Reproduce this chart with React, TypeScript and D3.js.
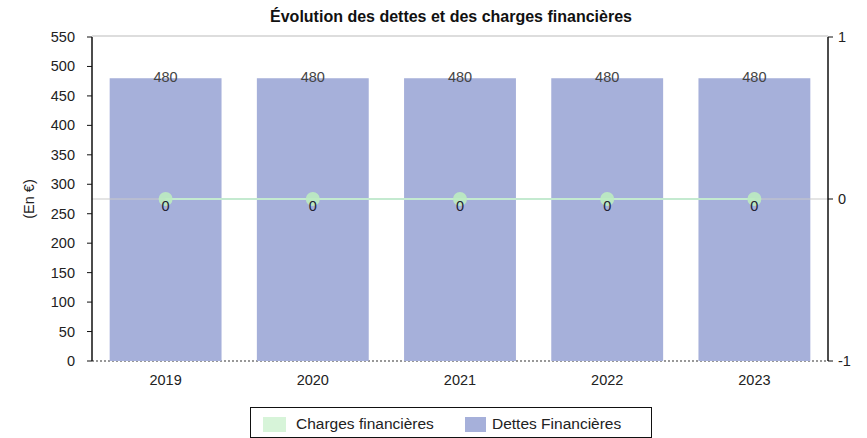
import React from "react";
import * as d3 from "d3";

const years = ["2019", "2020", "2021", "2022", "2023"];
const dettes = [480, 480, 480, 480, 480];
const charges = [0, 0, 0, 0, 0];
const leftTicks = [0, 50, 100, 150, 200, 250, 300, 350, 400, 450, 500, 550];
const rightTicks = [-1, 0, 1];
const title = "Évolution des dettes et des charges financières";
const yTitle = "(En €)";
const legendLabels = ["Charges financières", "Dettes Financières"];

const W = 867, H = 438;
const L = 92, R = 828, T = 37, B = 361;
const barColor = "#a6b0da";
const lineColor = "#c4ead0";
const pointColor = "#bdecc0";
const font = "Liberation Sans, Arial, sans-serif";
const fs = 14.5;

export default function App() {
  const x = d3.scaleBand<string>().domain(years).range([L, R]).paddingInner(0.24).paddingOuter(0.12);
  const xc = (d: string) => (x(d) as number) + x.bandwidth() / 2;
  const yL = d3.scaleLinear().domain([0, 550]).range([B, T]);
  const yR = d3.scaleLinear().domain([-1, 1]).range([B, T]);
  const line = d3.line<number>().x((_, i) => xc(years[i])).y((d) => yR(d));

  return (
    <svg width={W} height={H} style={{ position: "absolute", left: 0, top: 0, background: "#fff" }} fontFamily={font}>
      <text x={451} y={22} textAnchor="middle" fontSize={16} fontWeight="bold" fill="#111">{title}</text>
      {/* top border */}
      <line x1={L} x2={R} y1={T - 1} y2={T - 1} stroke="#bbb" strokeWidth={1} />
      {/* bottom dotted axis */}
      <line x1={L} x2={R} y1={B} y2={B} stroke="#333" strokeWidth={1.2} strokeDasharray="2,2" />
      {/* bars */}
      {years.map((yr, i) => (
        <rect key={yr} x={x(yr)} y={yL(dettes[i])} width={x.bandwidth()} height={B - yL(dettes[i])} fill={barColor} />
      ))}
      {/* zero line of right axis */}
      <line x1={L} x2={R} y1={yR(0)} y2={yR(0)} stroke="#c9c9c9" strokeWidth={1} />
      <path d={line(charges) || ""} fill="none" stroke={lineColor} strokeWidth={2} />
      {years.map((yr, i) => (
        <circle key={yr} cx={xc(yr)} cy={yR(charges[i])} r={7} fill={pointColor} opacity={0.9} />
      ))}
      {years.map((yr, i) => (
        <text key={"c" + yr} x={xc(yr)} y={yR(charges[i]) + 12} textAnchor="middle" fontSize={fs} fill="#223">{charges[i]}</text>
      ))}
      {years.map((yr, i) => (
        <text key={"d" + yr} x={xc(yr)} y={yL(dettes[i]) + 4} textAnchor="middle" fontSize={fs} fill="#444">{dettes[i]}</text>
      ))}
      {/* left axis */}
      <line x1={L} x2={L} y1={T} y2={B} stroke="#111" strokeWidth={1.5} />
      {leftTicks.map((t) => (
        <g key={t}>
          <line x1={L - 5} x2={L} y1={yL(t)} y2={yL(t)} stroke="#111" />
          <text x={L - 17} y={yL(t) + 5} textAnchor="end" fontSize={fs} fill="#222">{t}</text>
        </g>
      ))}
      <text transform={`translate(34,${(T + B) / 2}) rotate(-90)`} textAnchor="middle" fontSize={fs} fill="#222">{yTitle}</text>
      {/* right axis */}
      <line x1={R} x2={R} y1={T} y2={B} stroke="#111" strokeWidth={1.5} />
      {rightTicks.map((t) => (
        <g key={t}>
          <line x1={R} x2={R + 5} y1={yR(t)} y2={yR(t)} stroke="#111" />
          <text x={R + 10} y={yR(t) + 5} fontSize={fs} fill="#222">{t}</text>
        </g>
      ))}
      {/* x labels */}
      {years.map((yr) => (
        <text key={"x" + yr} x={xc(yr)} y={385} textAnchor="middle" fontSize={fs} fill="#222">{yr}</text>
      ))}
      {/* legend */}
      <rect x={250.5} y={407.5} width={401} height={30} fill="#fff" stroke="#111" strokeWidth={1} />
      <rect x={263} y={417} width={23} height={15} fill={pointColor} opacity={0.6} />
      <text x={296} y={429} fontSize={15.5} fill="#222">{legendLabels[0]}</text>
      <rect x={465} y={417} width={21} height={15} fill={barColor} />
      <text x={492} y={429} fontSize={15.5} fill="#222">{legendLabels[1]}</text>
    </svg>
  );
}
